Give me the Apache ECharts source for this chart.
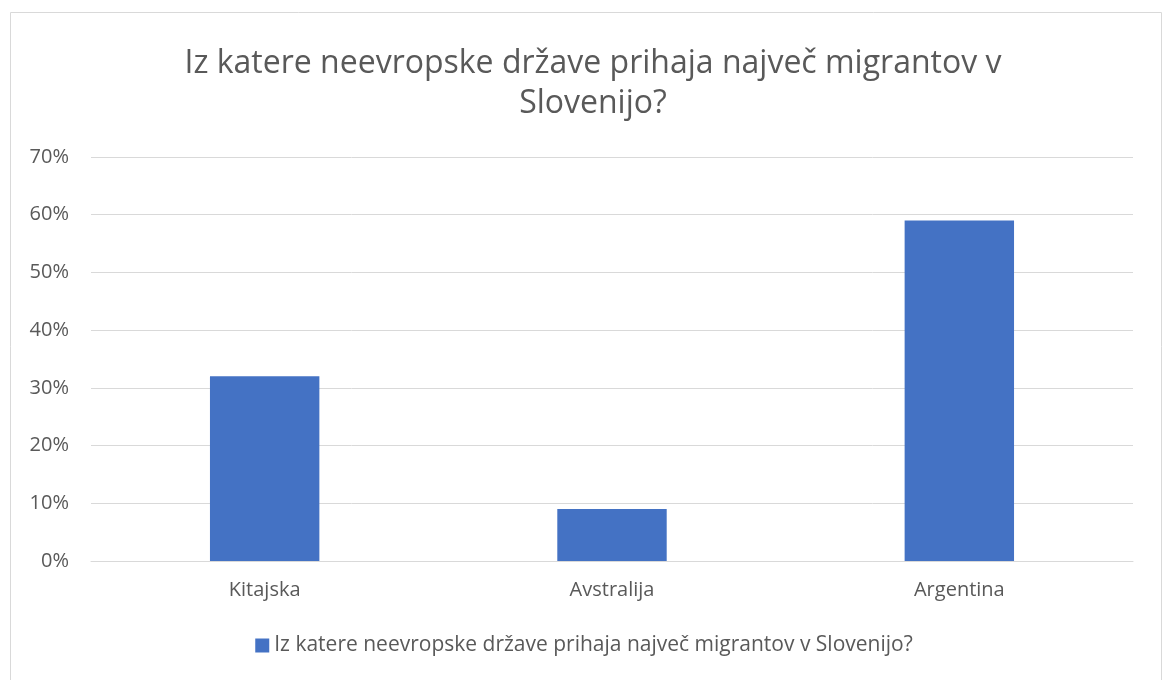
<!DOCTYPE html>
<html>
<head>
<meta charset="utf-8">
<script src="https://cdn.jsdelivr.net/npm/echarts@6/dist/echarts.min.js"></script>
<style>
  html, body { margin: 0; padding: 0; background: #fff; }
  #chart { width: 1168px; height: 680px; }
</style>
</head>
<body>
<div id="chart"></div>
<script>
// 数据
const categories = ['Kitajska', 'Avstralija', 'Argentina']
const values = [0.32, 0.09, 0.59]
const seriesName = 'Iz katere neevropske države prihaja največ migrantov v Slovenijo?'
const titleText = 'Iz katere neevropske države prihaja največ migrantov v\nSlovenijo?'

const chart = echarts.init(document.getElementById('chart'))
const font = '"Open Sans", sans-serif'
const option = {
  animation: false,
  textStyle: { fontFamily: font },
  graphic: [{
    type: 'rect',
    shape: { x: 10.5, y: 12.5, width: 1151, height: 700 },
    style: { fill: 'none', stroke: '#d9d9d9', lineWidth: 1 },
    silent: true
  }],
  title: {
    text: titleText,
    left: 588,
    top: 39,
    textAlign: 'center',
    textStyle: {
      fontSize: 32,
      fontWeight: 'normal',
      color: '#595959',
      fontFamily: font,
      lineHeight: 40
    }
  },
  legend: {
    data: [seriesName],
    bottom: 19,
    left: 'center',
    itemWidth: 14,
    itemHeight: 14,
    itemGap: 4,
    icon: 'rect',
    textStyle: { fontSize: 21, color: '#595959', fontFamily: font }
  },
  grid: {
    left: 91,
    right: 35,
    top: 157,
    bottom: 119
  },
  xAxis: {
    type: 'category',
    data: categories,
    axisLine: { show: true, lineStyle: { color: '#d9d9d9', width: 1 } },
    axisTick: { show: false },
    axisLabel: { fontSize: 20, color: '#595959', margin: 19, fontFamily: font }
  },
  yAxis: {
    type: 'value',
    min: 0,
    max: 0.7,
    interval: 0.1,
    axisLine: { show: false },
    axisTick: { show: false },
    splitLine: { lineStyle: { color: '#d9d9d9', width: 1 } },
    axisLabel: {
      fontSize: 20,
      color: '#595959',
      margin: 22,
      fontFamily: font,
      formatter: v => Math.round(v * 100) + '%'
    }
  },
  series: [{
    name: seriesName,
    type: 'bar',
    data: values,
    barWidth: '31.5%',
    itemStyle: { color: '#4472c4' }
  }]
}
chart.setOption(option)
</script>
</body>
</html>
